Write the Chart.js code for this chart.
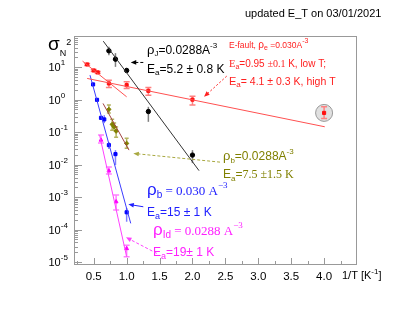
<!DOCTYPE html>
<html lang="en">
<head>
<meta charset="UTF-8">
<title>sigma_N^2 vs 1/T</title>
<script src="https://cdn.jsdelivr.net/npm/chart.js@4.4.1/dist/chart.umd.min.js"></script>
<style>
  * { margin: 0; padding: 0; box-sizing: border-box; }
  body { background: #fff; width: 415px; height: 318px; overflow: hidden; }
</style>
</head>
<body>
<canvas id="chart" width="415" height="318"></canvas>
<script>
// rho_J series (black)
const jX   = [0.73, 0.83, 1.0, 1.33, 2.0];
const jY   = [31.8, 17.6, 7.9, 0.43, 0.0196];
const jLo  = [23.4, 10.2, 6.7, 0.207, 0.0111];
const jHi  = [42.2, 27.0, 9.5, 0.60, 0.0279];
const jFitX = [0.645, 2.1];
const jFitY = [63, 0.0065];

// E-fault series (red)
const eX   = [0.40, 0.50, 0.56, 0.73, 1.0, 1.33, 2.0, 4.0];
const eY   = [12.1, 7.9, 6.9, 3.15, 2.8, 1.87, 1.0, 0.39];
const eLo  = [11.2, 7.3, 6.4, 2.37, 2.21, 1.37, 0.68, 0.264];
const eHi  = [13.0, 8.5, 7.4, 3.98, 3.53, 2.37, 1.28, 0.60];
const eLowFitX = [0.40, 4.01];
const eLowFitY = [4.49, 0.146];
const eHighFitX = [0.33, 1.0];
const eHighFitY = [15.3, 1.22];

// rho_b 0.030 series (blue)
const bX   = [0.49, 0.55, 0.61, 0.66, 0.73, 0.83, 1.0];
const bY   = [2.94, 0.986, 0.275, 0.246, 0.0398, 0.021, 3.4e-4];
const bLo  = [2.6, 0.88, 0.24, 0.189, 0.030, 0.00966, 1.74e-4];
const bHi  = [3.3, 1.1, 0.31, 0.333, 0.050, 0.0279, 4.6e-4];
const bFitX = [0.443, 1.062];
const bFitY = [5.67, 1.55e-4];

// rho_b 0.0288 series (olive)
const oX   = [0.73, 0.78, 0.81, 0.84, 1.0];
const oY   = [0.50, 0.173, 0.146, 0.107, 0.0449];
const oLo  = [0.385, 0.115, 0.115, 0.070, 0.032];
const oHi  = [0.68, 0.251, 0.19, 0.143, 0.065];
const oFitX = [0.641, 1.036];
const oFitY = [0.764, 0.0279];

// rho_Id series (magenta)
const mX   = [0.61, 0.73, 0.84, 1.0];
const mY   = [0.0568, 6.4e-3, 7.2e-4, 2.6e-5];
const mLo  = [0.046, 5.1e-3, 4.0e-4, 1.46e-5];
const mHi  = [0.081, 8.4e-3, 1.15e-3, 3.3e-5];
const mFitX = [0.589, 1.0];
const mFitY = [0.0809, 1.46e-5];

// axis ticks
const xTickLabels = [0.5, 1.0, 1.5, 2.0, 2.5, 3.0, 3.5, 4.0];
const yDecades = [-5, -4, -3, -2, -1, 0, 1];

// annotation arrows: [x1, y1, x2, y2] in data units, head at (x2, y2)
const arrowJ = [1.253, 13.95, 1.062, 13.95];
const arrowE = [2.52, 5.28, 2.176, 1.22];
const arrowB = [1.253, 5.03e-4, 1.025, 5.96e-4];
const arrowO = [2.419, 0.0119, 1.101, 0.0221];
const arrowM = [1.457, 1.85e-5, 0.99, 5.75e-5];

const SANS = '"Liberation Sans", Arial, sans-serif';
const SERIF = '"Liberation Serif", "Times New Roman", serif';

function pts(xs, ys) {
    return xs.map((x, i) => ({ x: x, y: ys[i] }));
}

function pointSet(xs, ys, color, style) {
    return {
        data: pts(xs, ys), showLine: false, pointStyle: style,
        pointRadius: 2.2, pointBackgroundColor: color, pointBorderColor: color,
        pointBorderWidth: 1
    };
}

function fitSet(xs, ys, color) {
    return {
        data: pts(xs, ys), showLine: true, pointRadius: 0,
        borderColor: color, borderWidth: 1, fill: false
    };
}

const errorSets = [
    { x: jX, lo: jLo, hi: jHi, color: '#808080', cap: 0 },
    { x: eX, lo: eLo, hi: eHi, color: '#ff8080', cap: 3 },
    { x: bX, lo: bLo, hi: bHi, color: '#8080ff', cap: 0 },
    { x: oX, lo: oLo, hi: oHi, color: '#b4b460', cap: 2 },
    { x: mX, lo: mLo, hi: mHi, color: '#ff80ff', cap: 3 }
];

// draw text pieces one after another, each [text, font, dy]
function rich(ctx, x, y, parts, color) {
    ctx.fillStyle = color;
    ctx.textAlign = 'left';
    ctx.textBaseline = 'alphabetic';
    parts.forEach(p => {
        ctx.font = p[1];
        ctx.fillText(p[0], x, y + (p[2] || 0));
        x += ctx.measureText(p[0]).width;
    });
}

function arrow(ctx, xs, ys, a, color, dash, head) {
    const x1 = xs.getPixelForValue(a[0]), y1 = ys.getPixelForValue(a[1]);
    const x2 = xs.getPixelForValue(a[2]), y2 = ys.getPixelForValue(a[3]);
    const ang = Math.atan2(y2 - y1, x2 - x1);
    ctx.save();
    ctx.strokeStyle = color;
    ctx.fillStyle = color;
    ctx.lineWidth = 1;
    ctx.setLineDash(dash);
    ctx.beginPath();
    ctx.moveTo(x1, y1);
    ctx.lineTo(x2 - Math.cos(ang) * head * 0.8, y2 - Math.sin(ang) * head * 0.8);
    ctx.stroke();
    ctx.setLineDash([]);
    ctx.beginPath();
    ctx.moveTo(x2, y2);
    ctx.lineTo(x2 - head * Math.cos(ang - 0.4), y2 - head * Math.sin(ang - 0.4));
    ctx.lineTo(x2 - head * Math.cos(ang + 0.4), y2 - head * Math.sin(ang + 0.4));
    ctx.closePath();
    ctx.fill();
    ctx.restore();
}

const decor = {
    id: 'decor',
    beforeDatasetsDraw(chart) {
        const ctx = chart.ctx, xs = chart.scales.x, ys = chart.scales.y;
        // grey circle round the last red point
        ctx.save();
        ctx.beginPath();
        ctx.arc(xs.getPixelForValue(eX[7]), ys.getPixelForValue(eY[7]), 8.5, 0, Math.PI * 2);
        ctx.fillStyle = '#e0e0e0';
        ctx.fill();
        ctx.strokeStyle = '#999';
        ctx.lineWidth = 1;
        ctx.stroke();
        // error bars
        errorSets.forEach(s => {
            ctx.strokeStyle = s.color;
            ctx.lineWidth = 1.5;
            s.x.forEach((x, i) => {
                const px = xs.getPixelForValue(x);
                const a = ys.getPixelForValue(s.lo[i]), b = ys.getPixelForValue(s.hi[i]);
                ctx.beginPath();
                ctx.moveTo(px, a);
                ctx.lineTo(px, b);
                if (s.cap) {
                    ctx.moveTo(px - s.cap, a); ctx.lineTo(px + s.cap, a);
                    ctx.moveTo(px - s.cap, b); ctx.lineTo(px + s.cap, b);
                }
                ctx.stroke();
            });
        });
        ctx.restore();
    },
    afterDraw(chart) {
        const ctx = chart.ctx, xs = chart.scales.x, ys = chart.scales.y;
        const area = chart.chartArea;
        ctx.save();
        // frame
        ctx.strokeStyle = '#999';
        ctx.lineWidth = 1;
        ctx.strokeRect(area.left + 0.5, area.top + 0.5, area.right - area.left - 1, area.bottom - area.top - 1);
        // x ticks every 0.25
        ctx.beginPath();
        for (let v = 0.25; v < 4.5; v += 0.25) {
            const px = Math.round(xs.getPixelForValue(v)) + 0.5;
            const len = Math.abs(v * 2 - Math.round(v * 2)) < 1e-6 ? 7 : 4;
            ctx.moveTo(px, area.bottom);
            ctx.lineTo(px, area.bottom - len);
        }
        // y ticks, decades and minor
        for (let d = -6; d <= 1; d++) {
            for (let m = 1; m <= 9; m++) {
                const v = m * Math.pow(10, d);
                if (v < ys.min || v > ys.max) continue;
                const py = Math.round(ys.getPixelForValue(v)) + 0.5;
                ctx.moveTo(area.left, py);
                ctx.lineTo(area.left + (m === 1 ? 8 : 4), py);
            }
        }
        ctx.stroke();

        // tick labels
        ctx.fillStyle = '#000';
        ctx.font = '11.5px ' + SANS;
        ctx.textAlign = 'center';
        xTickLabels.forEach(v => {
            ctx.fillText(v.toFixed(1), xs.getPixelForValue(v), 280);
        });
        yDecades.forEach(e => {
            const py = ys.getPixelForValue(Math.pow(10, e));
            rich(ctx, 48.5, py + 4, [['10', '11px ' + SANS], [String(e), '8px ' + SANS, -6]], '#000');
        });
        rich(ctx, 342, 279, [['1/T [K', '11px ' + SANS], ['-1', '8px ' + SANS, -5], [']', '11px ' + SANS]], '#000');

        // y title
        rich(ctx, 48, 50, [['σ', '19px ' + SANS], ['N', '9px ' + SANS, 5.5], ['2', '9px ' + SANS, -5]], '#000');

        // top note
        rich(ctx, 245, 17, [['updated E_T on 03/01/2021', '11px ' + SANS]], '#000');

        // black annotation
        rich(ctx, 147, 54, [['ρ', '13px ' + SANS], ['J', '8px ' + SANS, 2], ['=0.0288A', '12px ' + SANS], ['-3', '8px ' + SANS, -6]], '#000');
        rich(ctx, 147, 73, [['E', '12px ' + SANS], ['a', '8px ' + SANS, 2], ['=5.2 ± 0.8 K', '12px ' + SANS]], '#000');

        // red annotation
        const red = '#ff2020';
        rich(ctx, 229, 48, [['E-fault, ', '8.5px ' + SANS], ['ρ', '10px ' + SANS], ['e', '7px ' + SANS, 2], [' =0.030A', '8.5px ' + SANS], ['-3', '7px ' + SANS, -5]], red);
        rich(ctx, 229, 67, [['E', '10.5px ' + SERIF], ['a', '7px ' + SANS, 2], ['=0.95 ', '10px ' + SANS], ['±0.1', '10px ' + SERIF], [' K, low T;', '10px ' + SANS]], red);
        rich(ctx, 229, 85, [['E', '11px ' + SANS], ['a', '8px ' + SANS, 2], ['= 4.1 ± 0.3 K, high T', '10.5px ' + SANS]], red);

        // olive annotation
        const olive = '#808000';
        rich(ctx, 223, 160, [['ρ', '13px ' + SANS], ['b', '8px ' + SANS, 2.5], ['=0.0288A', '12px ' + SANS], ['-3', '8px ' + SANS, -6]], olive);
        rich(ctx, 223, 178, [['E', '12px ' + SANS], ['a', '8px ' + SANS, 2.5], ['=', '12px ' + SANS], ['7.5 ±1.5 K', '12px ' + SERIF]], olive);

        // blue annotation
        const blue = '#2020ff';
        rich(ctx, 147, 195, [['ρ', '17px ' + SANS], ['b', '10px ' + SANS, 3], [' = 0.030 Α', '13px ' + SERIF], ['−3', '9px ' + SERIF, -7]], blue);
        rich(ctx, 147, 216, [['E', '12px ' + SANS], ['a', '9px ' + SANS, 3], ['=15 ± 1 K', '12px ' + SANS]], blue);

        // magenta annotation
        const mag = '#ff20ff';
        rich(ctx, 153, 235, [['ρ', '17px ' + SANS], ['Id', '10px ' + SANS, 3], [' = 0.0288 Α', '13px ' + SERIF], ['−3', '9px ' + SERIF, -7]], mag);
        rich(ctx, 153, 256, [['E', '12px ' + SANS], ['a', '9px ' + SANS, 3], ['=19± 1 K', '12px ' + SANS]], mag);

        // arrows
        arrow(ctx, xs, ys, arrowJ, '#000', [3, 2], 6);
        arrow(ctx, xs, ys, arrowE, '#ff2020', [2, 2], 6);
        arrow(ctx, xs, ys, arrowB, '#2020ff', [], 6);
        arrow(ctx, xs, ys, arrowO, '#a8a840', [3, 2], 6);
        arrow(ctx, xs, ys, arrowM, '#ff40ff', [3, 2], 6);
        ctx.restore();
    }
};

new Chart(document.getElementById('chart'), {
    type: 'scatter',
    data: {
        datasets: [
            fitSet(jFitX, jFitY, '#333333'),
            fitSet(eLowFitX, eLowFitY, '#ff5050'),
            fitSet(eHighFitX, eHighFitY, '#ff5050'),
            fitSet(bFitX, bFitY, '#3c3cff'),
            fitSet(oFitX, oFitY, '#a04040'),
            fitSet(mFitX, mFitY, '#ff40ff'),
            pointSet(jX, jY, '#000000', 'circle'),
            pointSet(eX, eY, '#ff1010', 'rect'),
            pointSet(bX, bY, '#0000ff', 'rect'),
            pointSet(oX, oY, '#808000', 'rectRot'),
            pointSet(mX, mY, '#ff00ff', 'triangle')
        ]
    },
    options: {
        responsive: false,
        animation: false,
        devicePixelRatio: 1,
        layout: { padding: { left: 74, top: 36, right: 58, bottom: 53 } },
        scales: {
            x: { type: 'linear', min: 0.2, max: 4.5, display: false },
            y: { type: 'logarithmic', min: 8.1e-6, max: 91, display: false }
        },
        plugins: {
            legend: { display: false },
            tooltip: { enabled: false }
        }
    },
    plugins: [decor]
});
</script>
</body>
</html>
